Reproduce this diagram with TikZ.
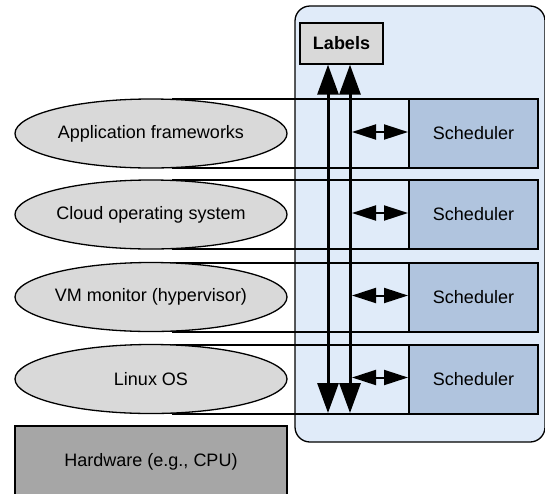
\documentclass[tikz,border=0pt]{standalone}
\usepackage{fontspec}
\setmainfont{Liberation Sans}
\usetikzlibrary{arrows.meta,shapes.geometric}

\definecolor{panelblue}{HTML}{E0EBF9}
\definecolor{schedblue}{HTML}{B0C4DE}
\definecolor{lightgrey}{HTML}{D9D9D9}
\definecolor{hwgrey}{HTML}{A6A6A6}

\tikzset{
  basefont/.style={font=\fontsize{18}{21}\selectfont},
  panel/.style={draw=black, line width=1.3pt, fill=panelblue, rounded corners=15pt},
  rowbox/.style={draw=black, line width=2pt, minimum width=236pt, minimum height=69pt, inner sep=0pt},
  schedbox/.style={draw=black, line width=2pt, fill=schedblue, minimum width=129pt, minimum height=69pt, inner sep=0pt, basefont},
  layer/.style={ellipse, draw=black, line width=1.3pt, fill=lightgrey, minimum width=272pt, minimum height=69pt, inner sep=0pt, basefont},
  hwbox/.style={draw=black, line width=1.3pt, fill=hwgrey, minimum width=272pt, minimum height=72pt, inner sep=0pt, basefont},
  labelbox/.style={draw=black, line width=1.3pt, fill=lightgrey, minimum width=83pt, minimum height=41pt, inner sep=0pt, basefont, font=\fontsize{18}{21}\selectfont\bfseries},
  bigarrow/.style={line width=3pt, {Triangle[length=30pt,width=21pt]}-{Triangle[length=30pt,width=21pt]}},
  linkarrow/.style={line width=2pt, {Triangle[length=24pt,width=15pt]}-{Triangle[length=24pt,width=15pt]}}
}

\begin{document}
\begin{tikzpicture}[x=1pt,y=-1pt]
  \useasboundingbox (0,0) rectangle (545,493);

  % blue panel holding the schedulers and labels
  \node[panel, minimum width=250pt, minimum height=436pt, inner sep=0pt] (panel) at (420,224) {};

  % one row per software layer: frame, scheduler, ellipse
  \foreach \i/\y/\txt in {1/133.5/Application frameworks,
                          2/214.5/Cloud operating system,
                          3/297/VM monitor (hypervisor),
                          4/379/Linux OS}{
    \node[rowbox] (row\i) at (291,\y) {};
    \node[schedbox] (sched\i) at (473.5,\y) {Scheduler};
    \node[layer] (layer\i) at (151,\y) {\txt};
  }

  % hardware base
  \node[hwbox] (hw) at (151,462) {Hardware (e.g., CPU)};

  % labels box
  \node[labelbox] (labels) at (341.5,43.5) {Labels};

  % vertical label arrows spanning all rows
  \coordinate (vA) at (328,413);
  \coordinate (vB) at (350,413);
  \draw[bigarrow] (vA) -- (vA |- labels.south);
  \draw[bigarrow] (vB) -- (vB |- labels.south);

  % links between the label bus and each scheduler
  \foreach \i in {1,...,4}{
    \draw[linkarrow] ([xshift=-56pt,yshift=1.5pt]sched\i.west) -- ([yshift=1.5pt]sched\i.west);
  }
\end{tikzpicture}
\end{document}
